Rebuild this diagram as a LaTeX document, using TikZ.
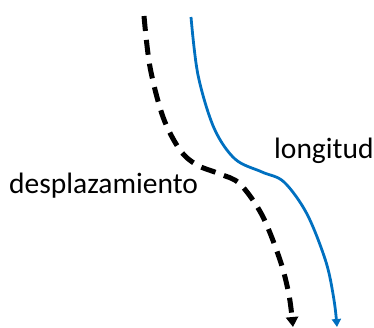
\documentclass[tikz,border=0pt]{standalone}
\usepackage{fontspec}
\setmainfont{Carlito}
\usetikzlibrary{arrows.meta}
\definecolor{offblue}{RGB}{0,112,192}
\tikzset{
  dispcurve/.style={line width=5pt, dash pattern=on 15pt off 9pt, -{Triangle[width=12pt,length=10pt]}},
  lencurve/.style={offblue, line width=2.8pt, -{Triangle[width=9pt,length=8pt]}},
  lbl/.style={font=\fontsize{29.5}{34}\selectfont, anchor=base west, inner sep=0pt}
}
\begin{document}
\begin{tikzpicture}[x=1pt,y=-1pt]
\useasboundingbox (0,0) rectangle (374,327);
\coordinate (bs) at (191,17);
\coordinate (be) at (337,327);
\coordinate (ks) at (144,16);
\coordinate (ke) at (293,327);
\draw[lencurve] plot[smooth, tension=0.55] coordinates {(bs) (198,75) (214,128) (235,159) (262,172) (284,182) (307,214) (326,262) (334,300) (be)};
\draw[dispcurve] plot[smooth, tension=0.55] coordinates {(ks) (150,67) (163,117) (180,150) (197,165) (220,174) (240,184) (262,215) (280,260) (289,295) (ke)};
\node[lbl] (lon) at (274,158) {longitud};
\node[lbl] (des) at (9,193) {desplazamiento};
\end{tikzpicture}
\end{document}
